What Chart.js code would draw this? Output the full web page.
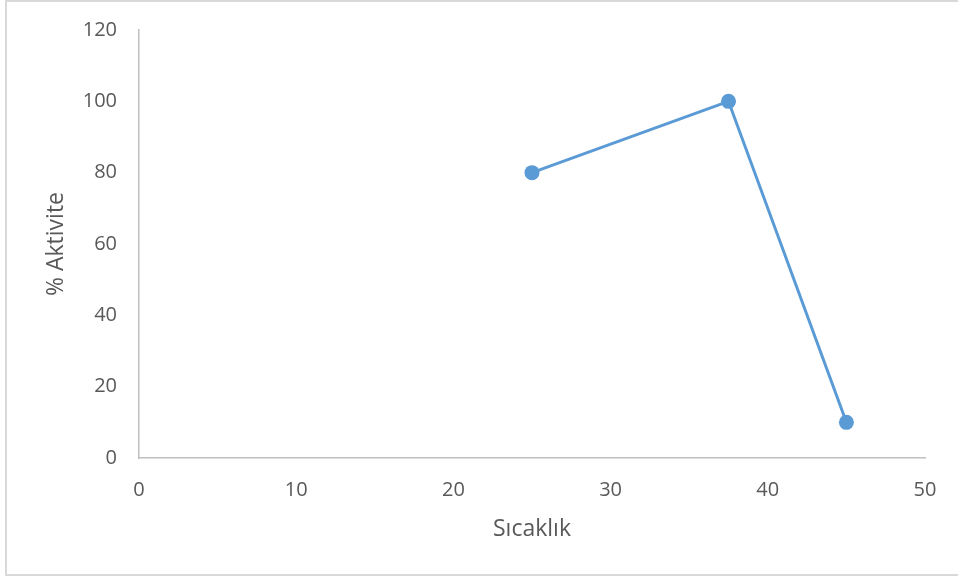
<!DOCTYPE html>
<html>
<head>
<meta charset="utf-8">
<script src="https://cdn.jsdelivr.net/npm/chart.js@4/dist/chart.umd.min.js"></script>
<style>
  html, body { margin: 0; padding: 0; background: #fff; }
  #wrap { position: relative; width: 958px; height: 578px; }
</style>
</head>
<body>
<div id="wrap"><canvas id="c" width="958" height="578"></canvas></div>
<script>
// Temperature (°C) vs relative activity (%)
const sicaklik = [25, 37.5, 45];
const aktivite = [80, 100, 10];
const xTicks = [0, 10, 20, 30, 40, 50];
const yTicks = [0, 20, 40, 60, 80, 100, 120];

const points = sicaklik.map((x, i) => ({ x: x, y: aktivite[i] }));

const tickColor = '#595959';
const axisColor = '#BFBFBF';
const lineColor = '#5B9BD5';
const fontFamily = '"Open Sans", "Liberation Sans", sans-serif';

// light frame around the whole chart
const framePlugin = {
  id: 'frame',
  afterDraw(chart) {
    const ctx = chart.ctx;
    ctx.save();
    ctx.strokeStyle = '#D9D9D9';
    ctx.lineWidth = 2;
    ctx.strokeRect(6, 1, 960, 574);
    ctx.restore();
  }
};

new Chart(document.getElementById('c'), {
  type: 'scatter',
  data: {
    datasets: [{
      data: points,
      showLine: true,
      borderColor: lineColor,
      backgroundColor: lineColor,
      borderWidth: 3,
      pointRadius: 7.5,
      pointHoverRadius: 7.5,
      pointBorderWidth: 0,
      tension: 0
    }]
  },
  options: {
    responsive: false,
    animation: false,
    events: [],
    layout: { padding: { left: 36, right: 33, top: 30, bottom: 30 } },
    plugins: { legend: { display: false }, tooltip: { enabled: false } },
    scales: {
      x: {
        type: 'linear',
        min: 0,
        max: 50,
        afterBuildTicks(scale) { scale.ticks = xTicks.map(v => ({ value: v })); },
        afterFit(scale) {
          scale.height = 90;
          scale.paddingLeft = 0;
          scale.paddingRight = 0;
        },
        grid: { drawOnChartArea: false, drawTicks: false },
        border: { display: true, color: axisColor, width: 1.5 },
        ticks: { color: tickColor, padding: 20, font: { family: fontFamily, size: 20 } },
        title: {
          display: true,
          text: 'Sıcaklık',
          color: tickColor,
          font: { family: fontFamily, size: 23 },
          padding: { top: 0, bottom: 5 }
        }
      },
      y: {
        type: 'linear',
        min: 0,
        max: 120,
        afterBuildTicks(scale) { scale.ticks = yTicks.map(v => ({ value: v })); },
        afterFit(scale) {
          scale.width = 103;
          scale.paddingTop = 0;
          scale.paddingBottom = 0;
        },
        grid: { drawOnChartArea: false, drawTicks: false },
        border: { display: true, color: axisColor, width: 1.5 },
        ticks: { color: tickColor, padding: 22, font: { family: fontFamily, size: 20 } },
        title: {
          display: true,
          text: '% Aktivite',
          color: tickColor,
          font: { family: fontFamily, size: 23 },
          padding: { top: 7, bottom: 0 }
        }
      }
    }
  },
  plugins: [framePlugin]
});
</script>
</body>
</html>
